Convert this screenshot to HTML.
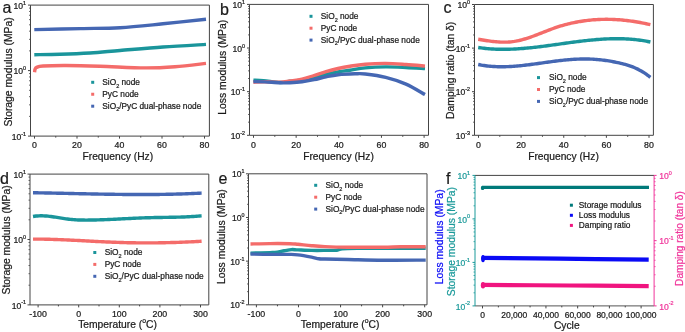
<!DOCTYPE html><html><head><meta charset="utf-8"><style>html,body{margin:0;padding:0;background:#fff;width:685px;height:332px;overflow:hidden;position:relative}</style></head><body><svg width="685" height="332" viewBox="0 0 685 332" style="position:absolute;left:0;top:0;will-change:transform" font-family='"Liberation Sans", sans-serif'>
<style>text{stroke-width:0.22px;paint-order:normal}</style>
<rect width="685" height="332" fill="#fff"/>
<line x1="34.50" y1="136.10" x2="34.50" y2="138.60" stroke="#444444" stroke-width="1.00"/>
<line x1="55.75" y1="136.10" x2="55.75" y2="137.60" stroke="#444444" stroke-width="1.00"/>
<line x1="77.00" y1="136.10" x2="77.00" y2="138.60" stroke="#444444" stroke-width="1.00"/>
<line x1="98.25" y1="136.10" x2="98.25" y2="137.60" stroke="#444444" stroke-width="1.00"/>
<line x1="119.50" y1="136.10" x2="119.50" y2="138.60" stroke="#444444" stroke-width="1.00"/>
<line x1="140.75" y1="136.10" x2="140.75" y2="137.60" stroke="#444444" stroke-width="1.00"/>
<line x1="162.00" y1="136.10" x2="162.00" y2="138.60" stroke="#444444" stroke-width="1.00"/>
<line x1="183.25" y1="136.10" x2="183.25" y2="137.60" stroke="#444444" stroke-width="1.00"/>
<line x1="204.50" y1="136.10" x2="204.50" y2="138.60" stroke="#444444" stroke-width="1.00"/>
<text x="0" y="0" transform="translate(34.50 147.80) scale(1 1.100)" font-size="8.80" text-anchor="middle" fill="#1a1a1a" stroke="#1a1a1a" >0</text>
<text x="0" y="0" transform="translate(77.00 147.80) scale(1 1.100)" font-size="8.80" text-anchor="middle" fill="#1a1a1a" stroke="#1a1a1a" >20</text>
<text x="0" y="0" transform="translate(119.50 147.80) scale(1 1.100)" font-size="8.80" text-anchor="middle" fill="#1a1a1a" stroke="#1a1a1a" >40</text>
<text x="0" y="0" transform="translate(162.00 147.80) scale(1 1.100)" font-size="8.80" text-anchor="middle" fill="#1a1a1a" stroke="#1a1a1a" >60</text>
<text x="0" y="0" transform="translate(204.50 147.80) scale(1 1.100)" font-size="8.80" text-anchor="middle" fill="#1a1a1a" stroke="#1a1a1a" >80</text>
<line x1="28.00" y1="5.10" x2="30.50" y2="5.10" stroke="#444444" stroke-width="1.00"/>
<line x1="29.00" y1="50.88" x2="30.50" y2="50.88" stroke="#444444" stroke-width="0.80"/>
<line x1="29.00" y1="39.35" x2="30.50" y2="39.35" stroke="#444444" stroke-width="0.80"/>
<line x1="29.00" y1="31.17" x2="30.50" y2="31.17" stroke="#444444" stroke-width="0.80"/>
<line x1="29.00" y1="24.82" x2="30.50" y2="24.82" stroke="#444444" stroke-width="0.80"/>
<line x1="29.00" y1="19.63" x2="30.50" y2="19.63" stroke="#444444" stroke-width="0.80"/>
<line x1="29.00" y1="15.25" x2="30.50" y2="15.25" stroke="#444444" stroke-width="0.80"/>
<line x1="29.00" y1="11.45" x2="30.50" y2="11.45" stroke="#444444" stroke-width="0.80"/>
<line x1="29.00" y1="8.10" x2="30.50" y2="8.10" stroke="#444444" stroke-width="0.80"/>
<text x="0" y="0" transform="translate(26.00 8.70) scale(1 1.120)" font-size="8.60" text-anchor="end" fill="#1a1a1a" stroke="#1a1a1a" >10<tspan dy="-3.6" font-size="5.4">1</tspan></text>
<line x1="28.00" y1="70.60" x2="30.50" y2="70.60" stroke="#444444" stroke-width="1.00"/>
<line x1="29.00" y1="116.38" x2="30.50" y2="116.38" stroke="#444444" stroke-width="0.80"/>
<line x1="29.00" y1="104.85" x2="30.50" y2="104.85" stroke="#444444" stroke-width="0.80"/>
<line x1="29.00" y1="96.67" x2="30.50" y2="96.67" stroke="#444444" stroke-width="0.80"/>
<line x1="29.00" y1="90.32" x2="30.50" y2="90.32" stroke="#444444" stroke-width="0.80"/>
<line x1="29.00" y1="85.13" x2="30.50" y2="85.13" stroke="#444444" stroke-width="0.80"/>
<line x1="29.00" y1="80.75" x2="30.50" y2="80.75" stroke="#444444" stroke-width="0.80"/>
<line x1="29.00" y1="76.95" x2="30.50" y2="76.95" stroke="#444444" stroke-width="0.80"/>
<line x1="29.00" y1="73.60" x2="30.50" y2="73.60" stroke="#444444" stroke-width="0.80"/>
<text x="0" y="0" transform="translate(26.00 74.20) scale(1 1.120)" font-size="8.60" text-anchor="end" fill="#1a1a1a" stroke="#1a1a1a" >10<tspan dy="-3.6" font-size="5.4">0</tspan></text>
<line x1="28.00" y1="136.10" x2="30.50" y2="136.10" stroke="#444444" stroke-width="1.00"/>
<text x="0" y="0" transform="translate(26.00 139.70) scale(1 1.120)" font-size="8.60" text-anchor="end" fill="#1a1a1a" stroke="#1a1a1a" >10<tspan dy="-3.6" font-size="5.4">-1</tspan></text>
<path d="M34.30 54.70 C38.58 54.63 50.72 54.58 60.00 54.30 C69.28 54.02 80.00 53.63 90.00 53.00 C100.00 52.37 107.83 51.50 120.00 50.50 C132.17 49.50 148.67 48.02 163.00 47.00 C177.33 45.98 198.83 44.83 206.00 44.40" fill="none" stroke="#1a959b" stroke-width="3.40" stroke-linecap="butt" stroke-linejoin="round"/>
<path d="M34.60 72.30 C34.67 71.83 34.67 70.32 35.00 69.50 C35.33 68.68 35.27 67.98 36.60 67.40 C37.93 66.82 38.10 66.32 43.00 66.00 C47.90 65.68 56.50 65.47 66.00 65.50 C75.50 65.53 86.83 65.80 100.00 66.20 C113.17 66.60 132.50 67.82 145.00 67.90 C157.50 67.98 164.83 67.45 175.00 66.70 C185.17 65.95 200.83 63.95 206.00 63.40" fill="none" stroke="#f46c6a" stroke-width="3.40" stroke-linecap="butt" stroke-linejoin="round"/>
<path d="M34.30 29.60 C42.03 29.43 66.42 28.92 80.70 28.60 C94.98 28.28 106.28 28.50 120.00 27.70 C133.72 26.90 148.67 25.20 163.00 23.80 C177.33 22.40 198.83 20.05 206.00 19.30" fill="none" stroke="#4567b3" stroke-width="3.40" stroke-linecap="butt" stroke-linejoin="round"/>
<line x1="30.50" y1="5.10" x2="209.40" y2="5.10" stroke="#444444" stroke-width="1.00"/>
<line x1="30.50" y1="136.10" x2="209.40" y2="136.10" stroke="#444444" stroke-width="1.00"/>
<line x1="30.50" y1="5.10" x2="30.50" y2="136.10" stroke="#444444" stroke-width="1.00"/>
<line x1="209.40" y1="5.10" x2="209.40" y2="136.10" stroke="#444444" stroke-width="1.00"/>
<rect x="91.20" y="80.80" width="3" height="3" fill="#1a959b"/>
<text x="102.30" y="85.10" font-size="8.30" text-anchor="start" fill="#1a1a1a" stroke="#1a1a1a" >SiO<tspan font-size="5.5" dy="2.4">2</tspan><tspan dy="-2.4"> node</tspan></text>
<rect x="91.20" y="92.75" width="3" height="3" fill="#f46c6a"/>
<text x="102.30" y="97.05" font-size="8.30" text-anchor="start" fill="#1a1a1a" stroke="#1a1a1a" >PyC node</text>
<rect x="91.20" y="104.70" width="3" height="3" fill="#4567b3"/>
<text x="102.30" y="109.00" font-size="8.30" text-anchor="start" fill="#1a1a1a" stroke="#1a1a1a" >SiO<tspan font-size="5.5" dy="2.4">2</tspan><tspan dy="-2.4">/PyC dual-phase node</tspan></text>
<text x="117.80" y="159.60" font-size="10.25" text-anchor="middle" fill="#1a1a1a" stroke="#1a1a1a" >Frequency (Hz)</text>
<text x="12.00" y="72.00" font-size="10.35" text-anchor="middle" fill="#1a1a1a" stroke="#1a1a1a" transform="rotate(-90 12.00 72.00)">Storage modulus (MPa)</text>
<text x="2.50" y="13.00" font-size="16.00" text-anchor="start" fill="#1a1a1a" stroke="#1a1a1a" >a</text>
<line x1="253.50" y1="135.30" x2="253.50" y2="137.80" stroke="#444444" stroke-width="1.00"/>
<line x1="274.82" y1="135.30" x2="274.82" y2="136.80" stroke="#444444" stroke-width="1.00"/>
<line x1="296.15" y1="135.30" x2="296.15" y2="137.80" stroke="#444444" stroke-width="1.00"/>
<line x1="317.48" y1="135.30" x2="317.48" y2="136.80" stroke="#444444" stroke-width="1.00"/>
<line x1="338.80" y1="135.30" x2="338.80" y2="137.80" stroke="#444444" stroke-width="1.00"/>
<line x1="360.12" y1="135.30" x2="360.12" y2="136.80" stroke="#444444" stroke-width="1.00"/>
<line x1="381.45" y1="135.30" x2="381.45" y2="137.80" stroke="#444444" stroke-width="1.00"/>
<line x1="402.78" y1="135.30" x2="402.78" y2="136.80" stroke="#444444" stroke-width="1.00"/>
<line x1="424.10" y1="135.30" x2="424.10" y2="137.80" stroke="#444444" stroke-width="1.00"/>
<text x="0" y="0" transform="translate(253.50 147.50) scale(1 1.100)" font-size="8.80" text-anchor="middle" fill="#1a1a1a" stroke="#1a1a1a" >0</text>
<text x="0" y="0" transform="translate(296.15 147.50) scale(1 1.100)" font-size="8.80" text-anchor="middle" fill="#1a1a1a" stroke="#1a1a1a" >20</text>
<text x="0" y="0" transform="translate(338.80 147.50) scale(1 1.100)" font-size="8.80" text-anchor="middle" fill="#1a1a1a" stroke="#1a1a1a" >40</text>
<text x="0" y="0" transform="translate(381.45 147.50) scale(1 1.100)" font-size="8.80" text-anchor="middle" fill="#1a1a1a" stroke="#1a1a1a" >60</text>
<text x="0" y="0" transform="translate(424.10 147.50) scale(1 1.100)" font-size="8.80" text-anchor="middle" fill="#1a1a1a" stroke="#1a1a1a" >80</text>
<line x1="247.00" y1="4.40" x2="249.50" y2="4.40" stroke="#444444" stroke-width="1.00"/>
<line x1="248.00" y1="34.90" x2="249.50" y2="34.90" stroke="#444444" stroke-width="0.80"/>
<line x1="248.00" y1="27.21" x2="249.50" y2="27.21" stroke="#444444" stroke-width="0.80"/>
<line x1="248.00" y1="21.76" x2="249.50" y2="21.76" stroke="#444444" stroke-width="0.80"/>
<line x1="248.00" y1="17.53" x2="249.50" y2="17.53" stroke="#444444" stroke-width="0.80"/>
<line x1="248.00" y1="14.08" x2="249.50" y2="14.08" stroke="#444444" stroke-width="0.80"/>
<line x1="248.00" y1="11.16" x2="249.50" y2="11.16" stroke="#444444" stroke-width="0.80"/>
<line x1="248.00" y1="8.63" x2="249.50" y2="8.63" stroke="#444444" stroke-width="0.80"/>
<line x1="248.00" y1="6.40" x2="249.50" y2="6.40" stroke="#444444" stroke-width="0.80"/>
<text x="0" y="0" transform="translate(245.00 8.00) scale(1 1.120)" font-size="8.60" text-anchor="end" fill="#1a1a1a" stroke="#1a1a1a" >10<tspan dy="-3.6" font-size="5.4">1</tspan></text>
<line x1="247.00" y1="48.03" x2="249.50" y2="48.03" stroke="#444444" stroke-width="1.00"/>
<line x1="248.00" y1="78.53" x2="249.50" y2="78.53" stroke="#444444" stroke-width="0.80"/>
<line x1="248.00" y1="70.85" x2="249.50" y2="70.85" stroke="#444444" stroke-width="0.80"/>
<line x1="248.00" y1="65.40" x2="249.50" y2="65.40" stroke="#444444" stroke-width="0.80"/>
<line x1="248.00" y1="61.17" x2="249.50" y2="61.17" stroke="#444444" stroke-width="0.80"/>
<line x1="248.00" y1="57.71" x2="249.50" y2="57.71" stroke="#444444" stroke-width="0.80"/>
<line x1="248.00" y1="54.79" x2="249.50" y2="54.79" stroke="#444444" stroke-width="0.80"/>
<line x1="248.00" y1="52.26" x2="249.50" y2="52.26" stroke="#444444" stroke-width="0.80"/>
<line x1="248.00" y1="50.03" x2="249.50" y2="50.03" stroke="#444444" stroke-width="0.80"/>
<text x="0" y="0" transform="translate(245.00 51.63) scale(1 1.120)" font-size="8.60" text-anchor="end" fill="#1a1a1a" stroke="#1a1a1a" >10<tspan dy="-3.6" font-size="5.4">0</tspan></text>
<line x1="247.00" y1="91.67" x2="249.50" y2="91.67" stroke="#444444" stroke-width="1.00"/>
<line x1="248.00" y1="122.17" x2="249.50" y2="122.17" stroke="#444444" stroke-width="0.80"/>
<line x1="248.00" y1="114.48" x2="249.50" y2="114.48" stroke="#444444" stroke-width="0.80"/>
<line x1="248.00" y1="109.03" x2="249.50" y2="109.03" stroke="#444444" stroke-width="0.80"/>
<line x1="248.00" y1="104.80" x2="249.50" y2="104.80" stroke="#444444" stroke-width="0.80"/>
<line x1="248.00" y1="101.35" x2="249.50" y2="101.35" stroke="#444444" stroke-width="0.80"/>
<line x1="248.00" y1="98.43" x2="249.50" y2="98.43" stroke="#444444" stroke-width="0.80"/>
<line x1="248.00" y1="95.90" x2="249.50" y2="95.90" stroke="#444444" stroke-width="0.80"/>
<line x1="248.00" y1="93.66" x2="249.50" y2="93.66" stroke="#444444" stroke-width="0.80"/>
<text x="0" y="0" transform="translate(245.00 95.27) scale(1 1.120)" font-size="8.60" text-anchor="end" fill="#1a1a1a" stroke="#1a1a1a" >10<tspan dy="-3.6" font-size="5.4">-1</tspan></text>
<line x1="247.00" y1="135.30" x2="249.50" y2="135.30" stroke="#444444" stroke-width="1.00"/>
<text x="0" y="0" transform="translate(245.00 138.90) scale(1 1.120)" font-size="8.60" text-anchor="end" fill="#1a1a1a" stroke="#1a1a1a" >10<tspan dy="-3.6" font-size="5.4">-2</tspan></text>
<path d="M253.40 80.20 C255.08 80.27 259.07 80.22 263.50 80.60 C267.93 80.98 275.58 82.38 280.00 82.50 C284.42 82.62 286.33 81.72 290.00 81.30 C293.67 80.88 298.00 80.67 302.00 80.00 C306.00 79.33 310.00 78.25 314.00 77.30 C318.00 76.35 322.00 75.20 326.00 74.30 C330.00 73.40 334.00 72.58 338.00 71.90 C342.00 71.22 345.45 70.87 350.00 70.20 C354.55 69.53 359.35 68.45 365.30 67.90 C371.25 67.35 378.92 66.97 385.70 66.90 C392.48 66.83 399.45 67.22 406.00 67.50 C412.55 67.78 421.83 68.42 425.00 68.60" fill="none" stroke="#1a959b" stroke-width="3.40" stroke-linecap="butt" stroke-linejoin="round"/>
<path d="M253.40 82.20 C255.33 82.13 260.57 81.78 265.00 81.80 C269.43 81.82 275.83 82.43 280.00 82.30 C284.17 82.17 286.33 81.53 290.00 81.00 C293.67 80.47 298.00 80.02 302.00 79.10 C306.00 78.18 310.00 76.75 314.00 75.50 C318.00 74.25 322.00 72.77 326.00 71.60 C330.00 70.43 334.00 69.40 338.00 68.50 C342.00 67.60 345.45 66.92 350.00 66.20 C354.55 65.48 359.35 64.67 365.30 64.20 C371.25 63.73 378.92 63.35 385.70 63.40 C392.48 63.45 399.45 64.05 406.00 64.50 C412.55 64.95 421.83 65.83 425.00 66.10" fill="none" stroke="#f46c6a" stroke-width="3.40" stroke-linecap="butt" stroke-linejoin="round"/>
<path d="M253.40 81.60 C255.33 81.65 260.57 81.70 265.00 81.90 C269.43 82.10 275.83 82.67 280.00 82.80 C284.17 82.93 286.33 82.87 290.00 82.70 C293.67 82.53 298.00 82.30 302.00 81.80 C306.00 81.30 310.00 80.53 314.00 79.70 C318.00 78.87 322.00 77.63 326.00 76.80 C330.00 75.97 333.17 75.20 338.00 74.70 C342.83 74.20 350.45 73.92 355.00 73.80 C359.55 73.68 360.18 73.40 365.30 74.00 C370.42 74.60 378.92 75.72 385.70 77.40 C392.48 79.08 399.45 81.23 406.00 84.10 C412.55 86.97 421.83 92.85 425.00 94.60" fill="none" stroke="#4567b3" stroke-width="3.40" stroke-linecap="butt" stroke-linejoin="round"/>
<line x1="249.50" y1="4.40" x2="428.50" y2="4.40" stroke="#444444" stroke-width="1.00"/>
<line x1="249.50" y1="135.30" x2="428.50" y2="135.30" stroke="#444444" stroke-width="1.00"/>
<line x1="249.50" y1="4.40" x2="249.50" y2="135.30" stroke="#444444" stroke-width="1.00"/>
<line x1="428.50" y1="4.40" x2="428.50" y2="135.30" stroke="#444444" stroke-width="1.00"/>
<rect x="309.50" y="14.80" width="3" height="3" fill="#1a959b"/>
<text x="320.80" y="19.10" font-size="8.30" text-anchor="start" fill="#1a1a1a" stroke="#1a1a1a" >SiO<tspan font-size="5.5" dy="2.4">2</tspan><tspan dy="-2.4"> node</tspan></text>
<rect x="309.50" y="26.70" width="3" height="3" fill="#f46c6a"/>
<text x="320.80" y="31.00" font-size="8.30" text-anchor="start" fill="#1a1a1a" stroke="#1a1a1a" >PyC node</text>
<rect x="309.50" y="38.60" width="3" height="3" fill="#4567b3"/>
<text x="320.80" y="42.90" font-size="8.30" text-anchor="start" fill="#1a1a1a" stroke="#1a1a1a" >SiO<tspan font-size="5.5" dy="2.4">2</tspan><tspan dy="-2.4">/PyC dual-phase node</tspan></text>
<text x="338.50" y="159.60" font-size="10.25" text-anchor="middle" fill="#1a1a1a" stroke="#1a1a1a" >Frequency (Hz)</text>
<text x="226.30" y="67.20" font-size="10.35" text-anchor="middle" fill="#1a1a1a" stroke="#1a1a1a" transform="rotate(-90 226.30 67.20)">Loss modulus (MPa)</text>
<text x="220.00" y="14.50" font-size="16.00" text-anchor="start" fill="#1a1a1a" stroke="#1a1a1a" >b</text>
<line x1="478.50" y1="135.30" x2="478.50" y2="137.80" stroke="#444444" stroke-width="1.00"/>
<line x1="499.81" y1="135.30" x2="499.81" y2="136.80" stroke="#444444" stroke-width="1.00"/>
<line x1="521.12" y1="135.30" x2="521.12" y2="137.80" stroke="#444444" stroke-width="1.00"/>
<line x1="542.44" y1="135.30" x2="542.44" y2="136.80" stroke="#444444" stroke-width="1.00"/>
<line x1="563.75" y1="135.30" x2="563.75" y2="137.80" stroke="#444444" stroke-width="1.00"/>
<line x1="585.06" y1="135.30" x2="585.06" y2="136.80" stroke="#444444" stroke-width="1.00"/>
<line x1="606.38" y1="135.30" x2="606.38" y2="137.80" stroke="#444444" stroke-width="1.00"/>
<line x1="627.69" y1="135.30" x2="627.69" y2="136.80" stroke="#444444" stroke-width="1.00"/>
<line x1="649.00" y1="135.30" x2="649.00" y2="137.80" stroke="#444444" stroke-width="1.00"/>
<text x="0" y="0" transform="translate(478.50 147.80) scale(1 1.100)" font-size="8.80" text-anchor="middle" fill="#1a1a1a" stroke="#1a1a1a" >0</text>
<text x="0" y="0" transform="translate(521.12 147.80) scale(1 1.100)" font-size="8.80" text-anchor="middle" fill="#1a1a1a" stroke="#1a1a1a" >20</text>
<text x="0" y="0" transform="translate(563.75 147.80) scale(1 1.100)" font-size="8.80" text-anchor="middle" fill="#1a1a1a" stroke="#1a1a1a" >40</text>
<text x="0" y="0" transform="translate(606.38 147.80) scale(1 1.100)" font-size="8.80" text-anchor="middle" fill="#1a1a1a" stroke="#1a1a1a" >60</text>
<text x="0" y="0" transform="translate(649.00 147.80) scale(1 1.100)" font-size="8.80" text-anchor="middle" fill="#1a1a1a" stroke="#1a1a1a" >80</text>
<line x1="472.00" y1="4.50" x2="474.50" y2="4.50" stroke="#444444" stroke-width="1.00"/>
<line x1="473.00" y1="34.98" x2="474.50" y2="34.98" stroke="#444444" stroke-width="0.80"/>
<line x1="473.00" y1="27.30" x2="474.50" y2="27.30" stroke="#444444" stroke-width="0.80"/>
<line x1="473.00" y1="21.85" x2="474.50" y2="21.85" stroke="#444444" stroke-width="0.80"/>
<line x1="473.00" y1="17.62" x2="474.50" y2="17.62" stroke="#444444" stroke-width="0.80"/>
<line x1="473.00" y1="14.17" x2="474.50" y2="14.17" stroke="#444444" stroke-width="0.80"/>
<line x1="473.00" y1="11.25" x2="474.50" y2="11.25" stroke="#444444" stroke-width="0.80"/>
<line x1="473.00" y1="8.73" x2="474.50" y2="8.73" stroke="#444444" stroke-width="0.80"/>
<line x1="473.00" y1="6.50" x2="474.50" y2="6.50" stroke="#444444" stroke-width="0.80"/>
<text x="0" y="0" transform="translate(470.00 8.10) scale(1 1.120)" font-size="8.60" text-anchor="end" fill="#1a1a1a" stroke="#1a1a1a" >10<tspan dy="-3.6" font-size="5.4">0</tspan></text>
<line x1="472.00" y1="48.10" x2="474.50" y2="48.10" stroke="#444444" stroke-width="1.00"/>
<line x1="473.00" y1="78.58" x2="474.50" y2="78.58" stroke="#444444" stroke-width="0.80"/>
<line x1="473.00" y1="70.90" x2="474.50" y2="70.90" stroke="#444444" stroke-width="0.80"/>
<line x1="473.00" y1="65.45" x2="474.50" y2="65.45" stroke="#444444" stroke-width="0.80"/>
<line x1="473.00" y1="61.22" x2="474.50" y2="61.22" stroke="#444444" stroke-width="0.80"/>
<line x1="473.00" y1="57.77" x2="474.50" y2="57.77" stroke="#444444" stroke-width="0.80"/>
<line x1="473.00" y1="54.85" x2="474.50" y2="54.85" stroke="#444444" stroke-width="0.80"/>
<line x1="473.00" y1="52.33" x2="474.50" y2="52.33" stroke="#444444" stroke-width="0.80"/>
<line x1="473.00" y1="50.10" x2="474.50" y2="50.10" stroke="#444444" stroke-width="0.80"/>
<text x="0" y="0" transform="translate(470.00 51.70) scale(1 1.120)" font-size="8.60" text-anchor="end" fill="#1a1a1a" stroke="#1a1a1a" >10<tspan dy="-3.6" font-size="5.4">-1</tspan></text>
<line x1="472.00" y1="91.70" x2="474.50" y2="91.70" stroke="#444444" stroke-width="1.00"/>
<line x1="473.00" y1="122.18" x2="474.50" y2="122.18" stroke="#444444" stroke-width="0.80"/>
<line x1="473.00" y1="114.50" x2="474.50" y2="114.50" stroke="#444444" stroke-width="0.80"/>
<line x1="473.00" y1="109.05" x2="474.50" y2="109.05" stroke="#444444" stroke-width="0.80"/>
<line x1="473.00" y1="104.82" x2="474.50" y2="104.82" stroke="#444444" stroke-width="0.80"/>
<line x1="473.00" y1="101.37" x2="474.50" y2="101.37" stroke="#444444" stroke-width="0.80"/>
<line x1="473.00" y1="98.45" x2="474.50" y2="98.45" stroke="#444444" stroke-width="0.80"/>
<line x1="473.00" y1="95.93" x2="474.50" y2="95.93" stroke="#444444" stroke-width="0.80"/>
<line x1="473.00" y1="93.70" x2="474.50" y2="93.70" stroke="#444444" stroke-width="0.80"/>
<text x="0" y="0" transform="translate(470.00 95.30) scale(1 1.120)" font-size="8.60" text-anchor="end" fill="#1a1a1a" stroke="#1a1a1a" >10<tspan dy="-3.6" font-size="5.4">-2</tspan></text>
<line x1="472.00" y1="135.30" x2="474.50" y2="135.30" stroke="#444444" stroke-width="1.00"/>
<text x="0" y="0" transform="translate(470.00 138.90) scale(1 1.120)" font-size="8.60" text-anchor="end" fill="#1a1a1a" stroke="#1a1a1a" >10<tspan dy="-3.6" font-size="5.4">-3</tspan></text>
<path d="M478.20 47.50 L479.70 47.72 L481.20 47.93 L482.70 48.12 L484.20 48.30 L485.70 48.46 L487.20 48.60 L488.70 48.73 L490.20 48.85 L491.70 48.95 L493.20 49.04 L494.70 49.12 L496.20 49.18 L497.70 49.23 L499.20 49.27 L500.70 49.29 L502.20 49.31 L503.70 49.31 L505.20 49.30 L506.70 49.28 L508.20 49.25 L509.70 49.21 L511.20 49.16 L512.70 49.10 L514.20 49.03 L515.70 48.95 L517.20 48.87 L518.70 48.77 L520.20 48.67 L521.70 48.56 L523.20 48.44 L524.70 48.31 L526.20 48.18 L527.70 48.04 L529.20 47.89 L530.70 47.74 L532.20 47.58 L533.70 47.42 L535.20 47.25 L536.70 47.08 L538.20 46.90 L539.70 46.72 L541.20 46.53 L542.70 46.34 L544.20 46.15 L545.70 45.95 L547.20 45.75 L548.70 45.55 L550.20 45.35 L551.70 45.14 L553.20 44.93 L554.70 44.73 L556.20 44.52 L557.70 44.31 L559.20 44.10 L560.70 43.89 L562.20 43.67 L563.70 43.47 L565.20 43.26 L566.70 43.05 L568.20 42.84 L569.70 42.64 L571.20 42.43 L572.70 42.23 L574.20 42.04 L575.70 41.84 L577.20 41.65 L578.70 41.46 L580.20 41.27 L581.70 41.09 L583.20 40.92 L584.70 40.74 L586.20 40.58 L587.70 40.41 L589.20 40.26 L590.70 40.11 L592.20 39.96 L593.70 39.82 L595.20 39.69 L596.70 39.56 L598.20 39.45 L599.70 39.33 L601.20 39.23 L602.70 39.14 L604.20 39.05 L605.70 38.97 L607.20 38.90 L608.70 38.84 L610.20 38.79 L611.70 38.75 L613.20 38.72 L614.70 38.70 L616.20 38.69 L617.70 38.69 L619.20 38.71 L620.70 38.73 L622.20 38.77 L623.70 38.81 L625.20 38.87 L626.70 38.95 L628.20 39.03 L629.70 39.13 L631.20 39.25 L632.70 39.37 L634.20 39.51 L635.70 39.67 L637.20 39.84 L638.70 40.02 L640.20 40.22 L641.70 40.44 L643.20 40.67 L644.70 40.92 L646.20 41.18 L647.70 41.46 L649.20 41.76 L650.40 42.01" fill="none" stroke="#1a959b" stroke-width="3.40" stroke-linecap="butt" stroke-linejoin="round"/>
<path d="M478.20 39.26 L479.70 39.51 L481.20 39.76 L482.70 40.00 L484.20 40.24 L485.70 40.47 L487.20 40.70 L488.70 40.92 L490.20 41.12 L491.70 41.32 L493.20 41.49 L494.70 41.66 L496.20 41.80 L497.70 41.92 L499.20 42.02 L500.70 42.10 L502.20 42.15 L503.70 42.17 L505.20 42.17 L506.70 42.13 L508.20 42.07 L509.70 41.96 L511.20 41.82 L512.70 41.64 L514.20 41.43 L515.70 41.18 L517.20 40.89 L518.70 40.57 L520.20 40.22 L521.70 39.84 L523.20 39.43 L524.70 39.00 L526.20 38.54 L527.70 38.07 L529.20 37.57 L530.70 37.05 L532.20 36.52 L533.70 35.98 L535.20 35.42 L536.70 34.85 L538.20 34.27 L539.70 33.69 L541.20 33.10 L542.70 32.51 L544.20 31.92 L545.70 31.33 L547.20 30.74 L548.70 30.17 L550.20 29.59 L551.70 29.03 L553.20 28.49 L554.70 27.95 L556.20 27.43 L557.70 26.94 L559.20 26.45 L560.70 25.99 L562.20 25.54 L563.70 25.12 L565.20 24.70 L566.70 24.31 L568.20 23.93 L569.70 23.56 L571.20 23.21 L572.70 22.88 L574.20 22.56 L575.70 22.26 L577.20 21.97 L578.70 21.70 L580.20 21.45 L581.70 21.21 L583.20 20.98 L584.70 20.77 L586.20 20.57 L587.70 20.39 L589.20 20.22 L590.70 20.07 L592.20 19.93 L593.70 19.81 L595.20 19.70 L596.70 19.60 L598.20 19.52 L599.70 19.45 L601.20 19.40 L602.70 19.36 L604.20 19.33 L605.70 19.32 L607.20 19.32 L608.70 19.34 L610.20 19.36 L611.70 19.40 L613.20 19.46 L614.70 19.52 L616.20 19.60 L617.70 19.69 L619.20 19.80 L620.70 19.92 L622.20 20.05 L623.70 20.19 L625.20 20.34 L626.70 20.51 L628.20 20.69 L629.70 20.88 L631.20 21.08 L632.70 21.29 L634.20 21.52 L635.70 21.76 L637.20 22.00 L638.70 22.26 L640.20 22.54 L641.70 22.82 L643.20 23.11 L644.70 23.42 L646.20 23.73 L647.70 24.06 L649.20 24.40 L650.40 24.67" fill="none" stroke="#f46c6a" stroke-width="3.40" stroke-linecap="butt" stroke-linejoin="round"/>
<path d="M478.20 64.49 L479.70 64.79 L481.20 65.07 L482.70 65.32 L484.20 65.55 L485.70 65.76 L487.20 65.94 L488.70 66.11 L490.20 66.25 L491.70 66.38 L493.20 66.48 L494.70 66.57 L496.20 66.64 L497.70 66.69 L499.20 66.72 L500.70 66.74 L502.20 66.74 L503.70 66.72 L505.20 66.70 L506.70 66.65 L508.20 66.60 L509.70 66.53 L511.20 66.44 L512.70 66.35 L514.20 66.24 L515.70 66.13 L517.20 66.00 L518.70 65.86 L520.20 65.72 L521.70 65.57 L523.20 65.41 L524.70 65.24 L526.20 65.06 L527.70 64.88 L529.20 64.69 L530.70 64.50 L532.20 64.31 L533.70 64.11 L535.20 63.90 L536.70 63.70 L538.20 63.49 L539.70 63.28 L541.20 63.07 L542.70 62.86 L544.20 62.65 L545.70 62.44 L547.20 62.23 L548.70 62.02 L550.20 61.82 L551.70 61.61 L553.20 61.42 L554.70 61.22 L556.20 61.04 L557.70 60.85 L559.20 60.67 L560.70 60.50 L562.20 60.34 L563.70 60.18 L565.20 60.03 L566.70 59.89 L568.20 59.76 L569.70 59.63 L571.20 59.52 L572.70 59.41 L574.20 59.32 L575.70 59.24 L577.20 59.16 L578.70 59.10 L580.20 59.05 L581.70 59.02 L583.20 58.99 L584.70 58.98 L586.20 58.99 L587.70 59.01 L589.20 59.04 L590.70 59.09 L592.20 59.15 L593.70 59.23 L595.20 59.33 L596.70 59.44 L598.20 59.57 L599.70 59.72 L601.20 59.89 L602.70 60.07 L604.20 60.26 L605.70 60.47 L607.20 60.69 L608.70 60.93 L610.20 61.18 L611.70 61.45 L613.20 61.72 L614.70 62.01 L616.20 62.31 L617.70 62.62 L619.20 62.95 L620.70 63.29 L622.20 63.65 L623.70 64.04 L625.20 64.44 L626.70 64.88 L628.20 65.34 L629.70 65.84 L631.20 66.37 L632.70 66.94 L634.20 67.55 L635.70 68.20 L637.20 68.90 L638.70 69.64 L640.20 70.44 L641.70 71.29 L643.20 72.19 L644.70 73.16 L646.20 74.18 L647.70 75.27 L649.20 76.42 L650.40 77.39" fill="none" stroke="#4567b3" stroke-width="3.40" stroke-linecap="butt" stroke-linejoin="round"/>
<line x1="474.50" y1="4.50" x2="653.40" y2="4.50" stroke="#444444" stroke-width="1.00"/>
<line x1="474.50" y1="135.30" x2="653.40" y2="135.30" stroke="#444444" stroke-width="1.00"/>
<line x1="474.50" y1="4.50" x2="474.50" y2="135.30" stroke="#444444" stroke-width="1.00"/>
<line x1="653.40" y1="4.50" x2="653.40" y2="135.30" stroke="#444444" stroke-width="1.00"/>
<rect x="537.00" y="76.10" width="3" height="3" fill="#1a959b"/>
<text x="549.00" y="80.40" font-size="8.30" text-anchor="start" fill="#1a1a1a" stroke="#1a1a1a" >SiO<tspan font-size="5.5" dy="2.4">2</tspan><tspan dy="-2.4"> node</tspan></text>
<rect x="537.00" y="88.00" width="3" height="3" fill="#f46c6a"/>
<text x="549.00" y="92.30" font-size="8.30" text-anchor="start" fill="#1a1a1a" stroke="#1a1a1a" >PyC node</text>
<rect x="537.00" y="99.90" width="3" height="3" fill="#4567b3"/>
<text x="549.00" y="104.20" font-size="8.30" text-anchor="start" fill="#1a1a1a" stroke="#1a1a1a" >SiO<tspan font-size="5.5" dy="2.4">2</tspan><tspan dy="-2.4">/PyC dual-phase node</tspan></text>
<text x="563.50" y="159.60" font-size="10.25" text-anchor="middle" fill="#1a1a1a" stroke="#1a1a1a" >Frequency (Hz)</text>
<text x="453.60" y="70.35" font-size="10.35" text-anchor="middle" fill="#1a1a1a" stroke="#1a1a1a" transform="rotate(-90 453.60 70.35)">Damping ratio (tan &#948;)</text>
<text x="443.50" y="13.00" font-size="16.00" text-anchor="start" fill="#1a1a1a" stroke="#1a1a1a" >c</text>
<line x1="38.10" y1="304.90" x2="38.10" y2="307.40" stroke="#444444" stroke-width="1.00"/>
<line x1="58.40" y1="304.90" x2="58.40" y2="306.40" stroke="#444444" stroke-width="1.00"/>
<line x1="78.70" y1="304.90" x2="78.70" y2="307.40" stroke="#444444" stroke-width="1.00"/>
<line x1="99.00" y1="304.90" x2="99.00" y2="306.40" stroke="#444444" stroke-width="1.00"/>
<line x1="119.30" y1="304.90" x2="119.30" y2="307.40" stroke="#444444" stroke-width="1.00"/>
<line x1="139.60" y1="304.90" x2="139.60" y2="306.40" stroke="#444444" stroke-width="1.00"/>
<line x1="159.90" y1="304.90" x2="159.90" y2="307.40" stroke="#444444" stroke-width="1.00"/>
<line x1="180.20" y1="304.90" x2="180.20" y2="306.40" stroke="#444444" stroke-width="1.00"/>
<line x1="200.50" y1="304.90" x2="200.50" y2="307.40" stroke="#444444" stroke-width="1.00"/>
<text x="0" y="0" transform="translate(38.10 317.00) scale(1 1.100)" font-size="8.80" text-anchor="middle" fill="#1a1a1a" stroke="#1a1a1a" >-100</text>
<text x="0" y="0" transform="translate(78.70 317.00) scale(1 1.100)" font-size="8.80" text-anchor="middle" fill="#1a1a1a" stroke="#1a1a1a" >0</text>
<text x="0" y="0" transform="translate(119.30 317.00) scale(1 1.100)" font-size="8.80" text-anchor="middle" fill="#1a1a1a" stroke="#1a1a1a" >100</text>
<text x="0" y="0" transform="translate(159.90 317.00) scale(1 1.100)" font-size="8.80" text-anchor="middle" fill="#1a1a1a" stroke="#1a1a1a" >200</text>
<text x="0" y="0" transform="translate(200.50 317.00) scale(1 1.100)" font-size="8.80" text-anchor="middle" fill="#1a1a1a" stroke="#1a1a1a" >300</text>
<line x1="27.50" y1="174.10" x2="30.00" y2="174.10" stroke="#444444" stroke-width="1.00"/>
<line x1="28.50" y1="219.81" x2="30.00" y2="219.81" stroke="#444444" stroke-width="0.80"/>
<line x1="28.50" y1="208.30" x2="30.00" y2="208.30" stroke="#444444" stroke-width="0.80"/>
<line x1="28.50" y1="200.13" x2="30.00" y2="200.13" stroke="#444444" stroke-width="0.80"/>
<line x1="28.50" y1="193.79" x2="30.00" y2="193.79" stroke="#444444" stroke-width="0.80"/>
<line x1="28.50" y1="188.61" x2="30.00" y2="188.61" stroke="#444444" stroke-width="0.80"/>
<line x1="28.50" y1="184.23" x2="30.00" y2="184.23" stroke="#444444" stroke-width="0.80"/>
<line x1="28.50" y1="180.44" x2="30.00" y2="180.44" stroke="#444444" stroke-width="0.80"/>
<line x1="28.50" y1="177.09" x2="30.00" y2="177.09" stroke="#444444" stroke-width="0.80"/>
<text x="0" y="0" transform="translate(26.00 177.70) scale(1 1.120)" font-size="8.60" text-anchor="end" fill="#1a1a1a" stroke="#1a1a1a" >10<tspan dy="-3.6" font-size="5.4">1</tspan></text>
<line x1="27.50" y1="239.50" x2="30.00" y2="239.50" stroke="#444444" stroke-width="1.00"/>
<line x1="28.50" y1="285.21" x2="30.00" y2="285.21" stroke="#444444" stroke-width="0.80"/>
<line x1="28.50" y1="273.70" x2="30.00" y2="273.70" stroke="#444444" stroke-width="0.80"/>
<line x1="28.50" y1="265.53" x2="30.00" y2="265.53" stroke="#444444" stroke-width="0.80"/>
<line x1="28.50" y1="259.19" x2="30.00" y2="259.19" stroke="#444444" stroke-width="0.80"/>
<line x1="28.50" y1="254.01" x2="30.00" y2="254.01" stroke="#444444" stroke-width="0.80"/>
<line x1="28.50" y1="249.63" x2="30.00" y2="249.63" stroke="#444444" stroke-width="0.80"/>
<line x1="28.50" y1="245.84" x2="30.00" y2="245.84" stroke="#444444" stroke-width="0.80"/>
<line x1="28.50" y1="242.49" x2="30.00" y2="242.49" stroke="#444444" stroke-width="0.80"/>
<text x="0" y="0" transform="translate(26.00 243.10) scale(1 1.120)" font-size="8.60" text-anchor="end" fill="#1a1a1a" stroke="#1a1a1a" >10<tspan dy="-3.6" font-size="5.4">0</tspan></text>
<line x1="27.50" y1="304.90" x2="30.00" y2="304.90" stroke="#444444" stroke-width="1.00"/>
<text x="0" y="0" transform="translate(26.00 308.50) scale(1 1.120)" font-size="8.60" text-anchor="end" fill="#1a1a1a" stroke="#1a1a1a" >10<tspan dy="-3.6" font-size="5.4">-1</tspan></text>
<path d="M33.00 216.49 L34.50 216.25 L36.00 216.06 L37.50 215.93 L39.00 215.84 L40.50 215.80 L42.00 215.81 L43.50 215.85 L45.00 215.93 L46.50 216.04 L48.00 216.18 L49.50 216.34 L51.00 216.53 L52.50 216.73 L54.00 216.95 L55.50 217.19 L57.00 217.43 L58.50 217.67 L60.00 217.92 L61.50 218.17 L63.00 218.41 L64.50 218.64 L66.00 218.86 L67.50 219.06 L69.00 219.25 L70.50 219.41 L72.00 219.56 L73.50 219.68 L75.00 219.78 L76.50 219.87 L78.00 219.94 L79.50 219.99 L81.00 220.03 L82.50 220.06 L84.00 220.07 L85.50 220.08 L87.00 220.08 L88.50 220.07 L90.00 220.05 L91.50 220.03 L93.00 220.00 L94.50 219.97 L96.00 219.94 L97.50 219.90 L99.00 219.85 L100.50 219.81 L102.00 219.76 L103.50 219.70 L105.00 219.65 L106.50 219.59 L108.00 219.53 L109.50 219.46 L111.00 219.40 L112.50 219.33 L114.00 219.26 L115.50 219.19 L117.00 219.12 L118.50 219.04 L120.00 218.97 L121.50 218.90 L123.00 218.82 L124.50 218.75 L126.00 218.67 L127.50 218.60 L129.00 218.52 L130.50 218.45 L132.00 218.38 L133.50 218.31 L135.00 218.24 L136.50 218.17 L138.00 218.11 L139.50 218.04 L141.00 217.98 L142.50 217.92 L144.00 217.87 L145.50 217.81 L147.00 217.77 L148.50 217.72 L150.00 217.68 L151.50 217.64 L153.00 217.60 L154.50 217.57 L156.00 217.54 L157.50 217.51 L159.00 217.49 L160.50 217.46 L162.00 217.44 L163.50 217.42 L165.00 217.39 L166.50 217.37 L168.00 217.35 L169.50 217.32 L171.00 217.30 L172.50 217.27 L174.00 217.24 L175.50 217.21 L177.00 217.17 L178.50 217.13 L180.00 217.09 L181.50 217.04 L183.00 216.99 L184.50 216.93 L186.00 216.87 L187.50 216.80 L189.00 216.72 L190.50 216.64 L192.00 216.55 L193.50 216.46 L195.00 216.35 L196.50 216.24 L198.00 216.12 L199.50 215.98 L201.00 215.84 L201.60 215.78" fill="none" stroke="#1a959b" stroke-width="3.40" stroke-linecap="butt" stroke-linejoin="round"/>
<path d="M33.00 239.08 L34.50 239.08 L36.00 239.09 L37.50 239.09 L39.00 239.11 L40.50 239.12 L42.00 239.14 L43.50 239.17 L45.00 239.20 L46.50 239.23 L48.00 239.26 L49.50 239.30 L51.00 239.34 L52.50 239.39 L54.00 239.43 L55.50 239.48 L57.00 239.54 L58.50 239.59 L60.00 239.65 L61.50 239.71 L63.00 239.77 L64.50 239.84 L66.00 239.90 L67.50 239.97 L69.00 240.04 L70.50 240.11 L72.00 240.18 L73.50 240.26 L75.00 240.33 L76.50 240.41 L78.00 240.49 L79.50 240.56 L81.00 240.64 L82.50 240.72 L84.00 240.80 L85.50 240.88 L87.00 240.96 L88.50 241.04 L90.00 241.12 L91.50 241.20 L93.00 241.27 L94.50 241.35 L96.00 241.43 L97.50 241.51 L99.00 241.58 L100.50 241.66 L102.00 241.73 L103.50 241.80 L105.00 241.87 L106.50 241.94 L108.00 242.01 L109.50 242.07 L111.00 242.14 L112.50 242.20 L114.00 242.26 L115.50 242.32 L117.00 242.37 L118.50 242.42 L120.00 242.47 L121.50 242.52 L123.00 242.56 L124.50 242.61 L126.00 242.64 L127.50 242.68 L129.00 242.71 L130.50 242.74 L132.00 242.77 L133.50 242.79 L135.00 242.82 L136.50 242.84 L138.00 242.85 L139.50 242.87 L141.00 242.88 L142.50 242.89 L144.00 242.89 L145.50 242.90 L147.00 242.90 L148.50 242.89 L150.00 242.89 L151.50 242.88 L153.00 242.87 L154.50 242.86 L156.00 242.85 L157.50 242.83 L159.00 242.81 L160.50 242.79 L162.00 242.76 L163.50 242.74 L165.00 242.71 L166.50 242.67 L168.00 242.64 L169.50 242.60 L171.00 242.56 L172.50 242.52 L174.00 242.48 L175.50 242.43 L177.00 242.38 L178.50 242.33 L180.00 242.28 L181.50 242.22 L183.00 242.16 L184.50 242.10 L186.00 242.04 L187.50 241.98 L189.00 241.91 L190.50 241.84 L192.00 241.77 L193.50 241.69 L195.00 241.62 L196.50 241.54 L198.00 241.46 L199.50 241.38 L201.00 241.29 L201.60 241.26" fill="none" stroke="#f46c6a" stroke-width="3.40" stroke-linecap="butt" stroke-linejoin="round"/>
<path d="M33.00 192.74 L34.50 192.76 L36.00 192.79 L37.50 192.81 L39.00 192.84 L40.50 192.86 L42.00 192.89 L43.50 192.92 L45.00 192.94 L46.50 192.97 L48.00 193.00 L49.50 193.03 L51.00 193.06 L52.50 193.09 L54.00 193.12 L55.50 193.15 L57.00 193.19 L58.50 193.22 L60.00 193.25 L61.50 193.28 L63.00 193.31 L64.50 193.35 L66.00 193.38 L67.50 193.41 L69.00 193.45 L70.50 193.48 L72.00 193.51 L73.50 193.54 L75.00 193.58 L76.50 193.61 L78.00 193.64 L79.50 193.68 L81.00 193.71 L82.50 193.74 L84.00 193.77 L85.50 193.81 L87.00 193.84 L88.50 193.87 L90.00 193.90 L91.50 193.93 L93.00 193.96 L94.50 193.99 L96.00 194.02 L97.50 194.05 L99.00 194.08 L100.50 194.10 L102.00 194.13 L103.50 194.16 L105.00 194.18 L106.50 194.21 L108.00 194.23 L109.50 194.26 L111.00 194.28 L112.50 194.30 L114.00 194.32 L115.50 194.34 L117.00 194.36 L118.50 194.38 L120.00 194.40 L121.50 194.42 L123.00 194.43 L124.50 194.45 L126.00 194.46 L127.50 194.47 L129.00 194.48 L130.50 194.49 L132.00 194.50 L133.50 194.51 L135.00 194.52 L136.50 194.52 L138.00 194.53 L139.50 194.53 L141.00 194.53 L142.50 194.53 L144.00 194.53 L145.50 194.53 L147.00 194.52 L148.50 194.51 L150.00 194.51 L151.50 194.50 L153.00 194.49 L154.50 194.47 L156.00 194.46 L157.50 194.44 L159.00 194.43 L160.50 194.41 L162.00 194.39 L163.50 194.36 L165.00 194.34 L166.50 194.31 L168.00 194.28 L169.50 194.25 L171.00 194.22 L172.50 194.18 L174.00 194.15 L175.50 194.11 L177.00 194.07 L178.50 194.02 L180.00 193.98 L181.50 193.93 L183.00 193.88 L184.50 193.83 L186.00 193.78 L187.50 193.72 L189.00 193.66 L190.50 193.60 L192.00 193.54 L193.50 193.47 L195.00 193.40 L196.50 193.33 L198.00 193.26 L199.50 193.18 L201.00 193.10 L201.60 193.07" fill="none" stroke="#4567b3" stroke-width="3.40" stroke-linecap="butt" stroke-linejoin="round"/>
<line x1="30.00" y1="174.10" x2="208.80" y2="174.10" stroke="#444444" stroke-width="1.00"/>
<line x1="30.00" y1="304.90" x2="208.80" y2="304.90" stroke="#444444" stroke-width="1.00"/>
<line x1="30.00" y1="174.10" x2="30.00" y2="304.90" stroke="#444444" stroke-width="1.00"/>
<line x1="208.80" y1="174.10" x2="208.80" y2="304.90" stroke="#444444" stroke-width="1.00"/>
<rect x="93.30" y="251.00" width="3" height="3" fill="#1a959b"/>
<text x="104.70" y="255.30" font-size="8.30" text-anchor="start" fill="#1a1a1a" stroke="#1a1a1a" >SiO<tspan font-size="5.5" dy="2.4">2</tspan><tspan dy="-2.4"> node</tspan></text>
<rect x="93.30" y="262.90" width="3" height="3" fill="#f46c6a"/>
<text x="104.70" y="267.20" font-size="8.30" text-anchor="start" fill="#1a1a1a" stroke="#1a1a1a" >PyC node</text>
<rect x="93.30" y="274.80" width="3" height="3" fill="#4567b3"/>
<text x="104.70" y="279.10" font-size="8.30" text-anchor="start" fill="#1a1a1a" stroke="#1a1a1a" >SiO<tspan font-size="5.5" dy="2.4">2</tspan><tspan dy="-2.4">/PyC dual-phase node</tspan></text>
<text x="117.50" y="328.20" font-size="10.30" text-anchor="middle" fill="#1a1a1a" stroke="#1a1a1a" >Temperature (<tspan dy="-5" font-size="6.8">o</tspan><tspan dy="5">C)</tspan></text>
<text x="9.80" y="239.90" font-size="10.35" text-anchor="middle" fill="#1a1a1a" stroke="#1a1a1a" transform="rotate(-90 9.80 239.90)">Storage modulus (MPa)</text>
<text x="0.00" y="184.00" font-size="16.00" text-anchor="start" fill="#1a1a1a" stroke="#1a1a1a" >d</text>
<line x1="256.40" y1="304.80" x2="256.40" y2="307.30" stroke="#444444" stroke-width="1.00"/>
<line x1="277.44" y1="304.80" x2="277.44" y2="306.30" stroke="#444444" stroke-width="1.00"/>
<line x1="298.47" y1="304.80" x2="298.47" y2="307.30" stroke="#444444" stroke-width="1.00"/>
<line x1="319.51" y1="304.80" x2="319.51" y2="306.30" stroke="#444444" stroke-width="1.00"/>
<line x1="340.55" y1="304.80" x2="340.55" y2="307.30" stroke="#444444" stroke-width="1.00"/>
<line x1="361.59" y1="304.80" x2="361.59" y2="306.30" stroke="#444444" stroke-width="1.00"/>
<line x1="382.62" y1="304.80" x2="382.62" y2="307.30" stroke="#444444" stroke-width="1.00"/>
<line x1="403.66" y1="304.80" x2="403.66" y2="306.30" stroke="#444444" stroke-width="1.00"/>
<line x1="424.70" y1="304.80" x2="424.70" y2="307.30" stroke="#444444" stroke-width="1.00"/>
<text x="0" y="0" transform="translate(256.40 317.00) scale(1 1.100)" font-size="8.80" text-anchor="middle" fill="#1a1a1a" stroke="#1a1a1a" >-100</text>
<text x="0" y="0" transform="translate(298.47 317.00) scale(1 1.100)" font-size="8.80" text-anchor="middle" fill="#1a1a1a" stroke="#1a1a1a" >0</text>
<text x="0" y="0" transform="translate(340.55 317.00) scale(1 1.100)" font-size="8.80" text-anchor="middle" fill="#1a1a1a" stroke="#1a1a1a" >100</text>
<text x="0" y="0" transform="translate(382.62 317.00) scale(1 1.100)" font-size="8.80" text-anchor="middle" fill="#1a1a1a" stroke="#1a1a1a" >200</text>
<text x="0" y="0" transform="translate(424.70 317.00) scale(1 1.100)" font-size="8.80" text-anchor="middle" fill="#1a1a1a" stroke="#1a1a1a" >300</text>
<line x1="246.00" y1="173.80" x2="248.50" y2="173.80" stroke="#444444" stroke-width="1.00"/>
<line x1="247.00" y1="204.32" x2="248.50" y2="204.32" stroke="#444444" stroke-width="0.80"/>
<line x1="247.00" y1="196.63" x2="248.50" y2="196.63" stroke="#444444" stroke-width="0.80"/>
<line x1="247.00" y1="191.18" x2="248.50" y2="191.18" stroke="#444444" stroke-width="0.80"/>
<line x1="247.00" y1="186.94" x2="248.50" y2="186.94" stroke="#444444" stroke-width="0.80"/>
<line x1="247.00" y1="183.49" x2="248.50" y2="183.49" stroke="#444444" stroke-width="0.80"/>
<line x1="247.00" y1="180.56" x2="248.50" y2="180.56" stroke="#444444" stroke-width="0.80"/>
<line x1="247.00" y1="178.03" x2="248.50" y2="178.03" stroke="#444444" stroke-width="0.80"/>
<line x1="247.00" y1="175.80" x2="248.50" y2="175.80" stroke="#444444" stroke-width="0.80"/>
<text x="0" y="0" transform="translate(244.50 177.40) scale(1 1.120)" font-size="8.60" text-anchor="end" fill="#1a1a1a" stroke="#1a1a1a" >10<tspan dy="-3.6" font-size="5.4">1</tspan></text>
<line x1="246.00" y1="217.47" x2="248.50" y2="217.47" stroke="#444444" stroke-width="1.00"/>
<line x1="247.00" y1="247.99" x2="248.50" y2="247.99" stroke="#444444" stroke-width="0.80"/>
<line x1="247.00" y1="240.30" x2="248.50" y2="240.30" stroke="#444444" stroke-width="0.80"/>
<line x1="247.00" y1="234.84" x2="248.50" y2="234.84" stroke="#444444" stroke-width="0.80"/>
<line x1="247.00" y1="230.61" x2="248.50" y2="230.61" stroke="#444444" stroke-width="0.80"/>
<line x1="247.00" y1="227.15" x2="248.50" y2="227.15" stroke="#444444" stroke-width="0.80"/>
<line x1="247.00" y1="224.23" x2="248.50" y2="224.23" stroke="#444444" stroke-width="0.80"/>
<line x1="247.00" y1="221.70" x2="248.50" y2="221.70" stroke="#444444" stroke-width="0.80"/>
<line x1="247.00" y1="219.46" x2="248.50" y2="219.46" stroke="#444444" stroke-width="0.80"/>
<text x="0" y="0" transform="translate(244.50 221.07) scale(1 1.120)" font-size="8.60" text-anchor="end" fill="#1a1a1a" stroke="#1a1a1a" >10<tspan dy="-3.6" font-size="5.4">0</tspan></text>
<line x1="246.00" y1="261.13" x2="248.50" y2="261.13" stroke="#444444" stroke-width="1.00"/>
<line x1="247.00" y1="291.66" x2="248.50" y2="291.66" stroke="#444444" stroke-width="0.80"/>
<line x1="247.00" y1="283.97" x2="248.50" y2="283.97" stroke="#444444" stroke-width="0.80"/>
<line x1="247.00" y1="278.51" x2="248.50" y2="278.51" stroke="#444444" stroke-width="0.80"/>
<line x1="247.00" y1="274.28" x2="248.50" y2="274.28" stroke="#444444" stroke-width="0.80"/>
<line x1="247.00" y1="270.82" x2="248.50" y2="270.82" stroke="#444444" stroke-width="0.80"/>
<line x1="247.00" y1="267.90" x2="248.50" y2="267.90" stroke="#444444" stroke-width="0.80"/>
<line x1="247.00" y1="265.37" x2="248.50" y2="265.37" stroke="#444444" stroke-width="0.80"/>
<line x1="247.00" y1="263.13" x2="248.50" y2="263.13" stroke="#444444" stroke-width="0.80"/>
<text x="0" y="0" transform="translate(244.50 264.73) scale(1 1.120)" font-size="8.60" text-anchor="end" fill="#1a1a1a" stroke="#1a1a1a" >10<tspan dy="-3.6" font-size="5.4">-1</tspan></text>
<line x1="246.00" y1="304.80" x2="248.50" y2="304.80" stroke="#444444" stroke-width="1.00"/>
<text x="0" y="0" transform="translate(244.50 308.40) scale(1 1.120)" font-size="8.60" text-anchor="end" fill="#1a1a1a" stroke="#1a1a1a" >10<tspan dy="-3.6" font-size="5.4">-2</tspan></text>
<path d="M250.50 253.10 C253.75 253.02 265.92 252.72 270.00 252.60 C274.08 252.48 272.63 252.70 275.00 252.40 C277.37 252.10 281.47 251.27 284.20 250.80 C286.93 250.33 289.10 249.75 291.40 249.60 C293.70 249.45 294.63 249.77 298.00 249.90 C301.37 250.03 307.10 250.32 311.60 250.40 C316.10 250.48 320.78 250.43 325.00 250.40 C329.22 250.37 334.02 250.48 336.90 250.20 C339.78 249.92 338.45 249.02 342.30 248.70 C346.15 248.38 350.38 248.38 360.00 248.30 C369.62 248.22 389.05 248.22 400.00 248.20 C410.95 248.18 421.42 248.20 425.70 248.20" fill="none" stroke="#1a959b" stroke-width="3.40" stroke-linecap="butt" stroke-linejoin="round"/>
<path d="M250.50 244.00 C253.75 243.93 263.42 243.65 270.00 243.60 C276.58 243.55 285.33 243.58 290.00 243.70 C294.67 243.82 294.40 243.97 298.00 244.30 C301.60 244.63 307.10 245.32 311.60 245.70 C316.10 246.08 318.93 246.35 325.00 246.60 C331.07 246.85 338.33 247.08 348.00 247.20 C357.67 247.32 374.23 247.37 383.00 247.30 C391.77 247.23 393.48 246.90 400.60 246.80 C407.72 246.70 421.52 246.72 425.70 246.70" fill="none" stroke="#f46c6a" stroke-width="3.40" stroke-linecap="butt" stroke-linejoin="round"/>
<path d="M250.50 254.00 C253.75 254.07 263.42 254.33 270.00 254.40 C276.58 254.47 285.33 254.32 290.00 254.40 C294.67 254.48 294.40 254.43 298.00 254.90 C301.60 255.37 308.13 256.55 311.60 257.20 C315.07 257.85 316.57 258.50 318.80 258.80 C321.03 259.10 320.13 258.88 325.00 259.00 C329.87 259.12 338.33 259.28 348.00 259.50 C357.67 259.72 370.05 260.20 383.00 260.30 C395.95 260.40 418.58 260.13 425.70 260.10" fill="none" stroke="#4567b3" stroke-width="3.40" stroke-linecap="butt" stroke-linejoin="round"/>
<line x1="248.50" y1="173.80" x2="427.00" y2="173.80" stroke="#444444" stroke-width="1.00"/>
<line x1="248.50" y1="304.80" x2="427.00" y2="304.80" stroke="#444444" stroke-width="1.00"/>
<line x1="248.50" y1="173.80" x2="248.50" y2="304.80" stroke="#444444" stroke-width="1.00"/>
<line x1="427.00" y1="173.80" x2="427.00" y2="304.80" stroke="#444444" stroke-width="1.00"/>
<rect x="314.20" y="183.80" width="3" height="3" fill="#1a959b"/>
<text x="325.50" y="188.10" font-size="8.30" text-anchor="start" fill="#1a1a1a" stroke="#1a1a1a" >SiO<tspan font-size="5.5" dy="2.4">2</tspan><tspan dy="-2.4"> node</tspan></text>
<rect x="314.20" y="195.70" width="3" height="3" fill="#f46c6a"/>
<text x="325.50" y="200.00" font-size="8.30" text-anchor="start" fill="#1a1a1a" stroke="#1a1a1a" >PyC node</text>
<rect x="314.20" y="207.60" width="3" height="3" fill="#4567b3"/>
<text x="325.50" y="211.90" font-size="8.30" text-anchor="start" fill="#1a1a1a" stroke="#1a1a1a" >SiO<tspan font-size="5.5" dy="2.4">2</tspan><tspan dy="-2.4">/PyC dual-phase node</tspan></text>
<text x="340.00" y="328.20" font-size="10.30" text-anchor="middle" fill="#1a1a1a" stroke="#1a1a1a" >Temperature (<tspan dy="-5" font-size="6.8">o</tspan><tspan dy="5">C)</tspan></text>
<text x="224.90" y="236.65" font-size="10.35" text-anchor="middle" fill="#1a1a1a" stroke="#1a1a1a" transform="rotate(-90 224.90 236.65)">Loss modulus (MPa)</text>
<text x="218.50" y="184.00" font-size="16.00" text-anchor="start" fill="#1a1a1a" stroke="#1a1a1a" >e</text>
<line x1="475.00" y1="175.40" x2="654.10" y2="175.40" stroke="#444444" stroke-width="1.00"/>
<line x1="475.00" y1="305.90" x2="654.10" y2="305.90" stroke="#555" stroke-width="1.00"/>
<line x1="475.00" y1="175.40" x2="475.00" y2="305.90" stroke="#1b9a9a" stroke-width="1.00"/>
<line x1="654.10" y1="175.40" x2="654.10" y2="305.90" stroke="#f0349a" stroke-width="1.00"/>
<line x1="482.50" y1="305.90" x2="482.50" y2="308.40" stroke="#444444" stroke-width="1.00"/>
<line x1="498.36" y1="305.90" x2="498.36" y2="307.40" stroke="#444444" stroke-width="1.00"/>
<line x1="514.22" y1="305.90" x2="514.22" y2="308.40" stroke="#444444" stroke-width="1.00"/>
<line x1="530.08" y1="305.90" x2="530.08" y2="307.40" stroke="#444444" stroke-width="1.00"/>
<line x1="545.94" y1="305.90" x2="545.94" y2="308.40" stroke="#444444" stroke-width="1.00"/>
<line x1="561.80" y1="305.90" x2="561.80" y2="307.40" stroke="#444444" stroke-width="1.00"/>
<line x1="577.66" y1="305.90" x2="577.66" y2="308.40" stroke="#444444" stroke-width="1.00"/>
<line x1="593.52" y1="305.90" x2="593.52" y2="307.40" stroke="#444444" stroke-width="1.00"/>
<line x1="609.38" y1="305.90" x2="609.38" y2="308.40" stroke="#444444" stroke-width="1.00"/>
<line x1="625.24" y1="305.90" x2="625.24" y2="307.40" stroke="#444444" stroke-width="1.00"/>
<line x1="641.10" y1="305.90" x2="641.10" y2="308.40" stroke="#444444" stroke-width="1.00"/>
<text x="0" y="0" transform="translate(482.50 317.50) scale(1 1.100)" font-size="8.50" text-anchor="middle" fill="#1a1a1a" stroke="#1a1a1a" >0</text>
<text x="0" y="0" transform="translate(514.22 317.50) scale(1 1.100)" font-size="8.50" text-anchor="middle" fill="#1a1a1a" stroke="#1a1a1a" >20,000</text>
<text x="0" y="0" transform="translate(545.94 317.50) scale(1 1.100)" font-size="8.50" text-anchor="middle" fill="#1a1a1a" stroke="#1a1a1a" >40,000</text>
<text x="0" y="0" transform="translate(577.66 317.50) scale(1 1.100)" font-size="8.50" text-anchor="middle" fill="#1a1a1a" stroke="#1a1a1a" >60,000</text>
<text x="0" y="0" transform="translate(609.38 317.50) scale(1 1.100)" font-size="8.50" text-anchor="middle" fill="#1a1a1a" stroke="#1a1a1a" >80,000</text>
<text x="0" y="0" transform="translate(641.10 317.50) scale(1 1.100)" font-size="8.50" text-anchor="middle" fill="#1a1a1a" stroke="#1a1a1a" >100,000</text>
<line x1="472.50" y1="175.40" x2="475.00" y2="175.40" stroke="#1b9a9a" stroke-width="1.00"/>
<line x1="473.50" y1="205.81" x2="475.00" y2="205.81" stroke="#1b9a9a" stroke-width="0.80"/>
<line x1="473.50" y1="198.15" x2="475.00" y2="198.15" stroke="#1b9a9a" stroke-width="0.80"/>
<line x1="473.50" y1="192.71" x2="475.00" y2="192.71" stroke="#1b9a9a" stroke-width="0.80"/>
<line x1="473.50" y1="188.49" x2="475.00" y2="188.49" stroke="#1b9a9a" stroke-width="0.80"/>
<line x1="473.50" y1="185.05" x2="475.00" y2="185.05" stroke="#1b9a9a" stroke-width="0.80"/>
<line x1="473.50" y1="182.14" x2="475.00" y2="182.14" stroke="#1b9a9a" stroke-width="0.80"/>
<line x1="473.50" y1="179.62" x2="475.00" y2="179.62" stroke="#1b9a9a" stroke-width="0.80"/>
<line x1="473.50" y1="177.39" x2="475.00" y2="177.39" stroke="#1b9a9a" stroke-width="0.80"/>
<text x="0" y="0" transform="translate(470.00 179.00) scale(1 1.120)" font-size="8.60" text-anchor="end" fill="#1b9a9a" stroke="#1b9a9a" >10<tspan dy="-3.6" font-size="5.4">1</tspan></text>
<line x1="472.50" y1="218.90" x2="475.00" y2="218.90" stroke="#1b9a9a" stroke-width="1.00"/>
<line x1="473.50" y1="249.31" x2="475.00" y2="249.31" stroke="#1b9a9a" stroke-width="0.80"/>
<line x1="473.50" y1="241.65" x2="475.00" y2="241.65" stroke="#1b9a9a" stroke-width="0.80"/>
<line x1="473.50" y1="236.21" x2="475.00" y2="236.21" stroke="#1b9a9a" stroke-width="0.80"/>
<line x1="473.50" y1="231.99" x2="475.00" y2="231.99" stroke="#1b9a9a" stroke-width="0.80"/>
<line x1="473.50" y1="228.55" x2="475.00" y2="228.55" stroke="#1b9a9a" stroke-width="0.80"/>
<line x1="473.50" y1="225.64" x2="475.00" y2="225.64" stroke="#1b9a9a" stroke-width="0.80"/>
<line x1="473.50" y1="223.12" x2="475.00" y2="223.12" stroke="#1b9a9a" stroke-width="0.80"/>
<line x1="473.50" y1="220.89" x2="475.00" y2="220.89" stroke="#1b9a9a" stroke-width="0.80"/>
<text x="0" y="0" transform="translate(470.00 222.50) scale(1 1.120)" font-size="8.60" text-anchor="end" fill="#1b9a9a" stroke="#1b9a9a" >10<tspan dy="-3.6" font-size="5.4">0</tspan></text>
<line x1="472.50" y1="262.40" x2="475.00" y2="262.40" stroke="#1b9a9a" stroke-width="1.00"/>
<line x1="473.50" y1="292.81" x2="475.00" y2="292.81" stroke="#1b9a9a" stroke-width="0.80"/>
<line x1="473.50" y1="285.15" x2="475.00" y2="285.15" stroke="#1b9a9a" stroke-width="0.80"/>
<line x1="473.50" y1="279.71" x2="475.00" y2="279.71" stroke="#1b9a9a" stroke-width="0.80"/>
<line x1="473.50" y1="275.49" x2="475.00" y2="275.49" stroke="#1b9a9a" stroke-width="0.80"/>
<line x1="473.50" y1="272.05" x2="475.00" y2="272.05" stroke="#1b9a9a" stroke-width="0.80"/>
<line x1="473.50" y1="269.14" x2="475.00" y2="269.14" stroke="#1b9a9a" stroke-width="0.80"/>
<line x1="473.50" y1="266.62" x2="475.00" y2="266.62" stroke="#1b9a9a" stroke-width="0.80"/>
<line x1="473.50" y1="264.39" x2="475.00" y2="264.39" stroke="#1b9a9a" stroke-width="0.80"/>
<text x="0" y="0" transform="translate(470.00 266.00) scale(1 1.120)" font-size="8.60" text-anchor="end" fill="#1b9a9a" stroke="#1b9a9a" >10<tspan dy="-3.6" font-size="5.4">-1</tspan></text>
<line x1="472.50" y1="305.90" x2="475.00" y2="305.90" stroke="#1b9a9a" stroke-width="1.00"/>
<text x="0" y="0" transform="translate(470.00 309.50) scale(1 1.120)" font-size="8.60" text-anchor="end" fill="#1b9a9a" stroke="#1b9a9a" >10<tspan dy="-3.6" font-size="5.4">-2</tspan></text>
<line x1="654.10" y1="175.40" x2="656.60" y2="175.40" stroke="#f0349a" stroke-width="1.00"/>
<line x1="654.10" y1="221.01" x2="655.60" y2="221.01" stroke="#f0349a" stroke-width="0.80"/>
<line x1="654.10" y1="209.52" x2="655.60" y2="209.52" stroke="#f0349a" stroke-width="0.80"/>
<line x1="654.10" y1="201.37" x2="655.60" y2="201.37" stroke="#f0349a" stroke-width="0.80"/>
<line x1="654.10" y1="195.04" x2="655.60" y2="195.04" stroke="#f0349a" stroke-width="0.80"/>
<line x1="654.10" y1="189.88" x2="655.60" y2="189.88" stroke="#f0349a" stroke-width="0.80"/>
<line x1="654.10" y1="185.51" x2="655.60" y2="185.51" stroke="#f0349a" stroke-width="0.80"/>
<line x1="654.10" y1="181.72" x2="655.60" y2="181.72" stroke="#f0349a" stroke-width="0.80"/>
<line x1="654.10" y1="178.39" x2="655.60" y2="178.39" stroke="#f0349a" stroke-width="0.80"/>
<text x="0" y="0" transform="translate(659.20 179.00) scale(1 1.120)" font-size="8.60" text-anchor="start" fill="#f0349a" stroke="#f0349a" >10<tspan dy="-3.6" font-size="5.4">0</tspan></text>
<line x1="654.10" y1="240.65" x2="656.60" y2="240.65" stroke="#f0349a" stroke-width="1.00"/>
<line x1="654.10" y1="286.26" x2="655.60" y2="286.26" stroke="#f0349a" stroke-width="0.80"/>
<line x1="654.10" y1="274.77" x2="655.60" y2="274.77" stroke="#f0349a" stroke-width="0.80"/>
<line x1="654.10" y1="266.62" x2="655.60" y2="266.62" stroke="#f0349a" stroke-width="0.80"/>
<line x1="654.10" y1="260.29" x2="655.60" y2="260.29" stroke="#f0349a" stroke-width="0.80"/>
<line x1="654.10" y1="255.13" x2="655.60" y2="255.13" stroke="#f0349a" stroke-width="0.80"/>
<line x1="654.10" y1="250.76" x2="655.60" y2="250.76" stroke="#f0349a" stroke-width="0.80"/>
<line x1="654.10" y1="246.97" x2="655.60" y2="246.97" stroke="#f0349a" stroke-width="0.80"/>
<line x1="654.10" y1="243.64" x2="655.60" y2="243.64" stroke="#f0349a" stroke-width="0.80"/>
<text x="0" y="0" transform="translate(659.20 244.25) scale(1 1.120)" font-size="8.60" text-anchor="start" fill="#f0349a" stroke="#f0349a" >10<tspan dy="-3.6" font-size="5.4">-1</tspan></text>
<line x1="654.10" y1="305.90" x2="656.60" y2="305.90" stroke="#f0349a" stroke-width="1.00"/>
<text x="0" y="0" transform="translate(659.20 309.50) scale(1 1.120)" font-size="8.60" text-anchor="start" fill="#f0349a" stroke="#f0349a" >10<tspan dy="-3.6" font-size="5.4">-2</tspan></text>
<path d="M482.50 187.40 C510.25 187.40 621.25 187.40 649.00 187.40" fill="none" stroke="#007a7a" stroke-width="3.40" stroke-linecap="butt" stroke-linejoin="round"/>
<ellipse cx="482.6" cy="187.9" rx="1.8" ry="2.2" fill="#007a7a"/>
<path d="M482.00 257.80 C495.00 257.95 532.22 258.38 560.00 258.70 C587.78 259.02 633.92 259.53 648.70 259.70" fill="none" stroke="#0a0af5" stroke-width="4.20" stroke-linecap="butt" stroke-linejoin="round"/>
<ellipse cx="483" cy="258.6" rx="2" ry="3.6" fill="#0a0af5"/>
<path d="M482.00 284.90 C496.67 285.00 542.22 285.30 570.00 285.50 C597.78 285.70 635.58 286.00 648.70 286.10" fill="none" stroke="#f0147f" stroke-width="4.20" stroke-linecap="butt" stroke-linejoin="round"/>
<ellipse cx="483" cy="285.3" rx="2.2" ry="3.2" fill="#f0147f"/>
<rect x="569.90" y="203.70" width="3" height="3" fill="#007a7a"/>
<text x="578.80" y="208.00" font-size="8.30" text-anchor="start" fill="#1a1a1a" stroke="#1a1a1a" >Storage modulus</text>
<rect x="569.90" y="213.80" width="3" height="3" fill="#0a0af5"/>
<text x="578.80" y="218.10" font-size="8.30" text-anchor="start" fill="#1a1a1a" stroke="#1a1a1a" >Loss modulus</text>
<rect x="569.90" y="223.90" width="3" height="3" fill="#f0147f"/>
<text x="578.80" y="228.20" font-size="8.30" text-anchor="start" fill="#1a1a1a" stroke="#1a1a1a" >Damping ratio</text>
<text x="566.80" y="328.80" font-size="10.25" text-anchor="middle" fill="#1a1a1a" stroke="#1a1a1a" >Cycle</text>
<text x="443.40" y="236.85" font-size="10.35" text-anchor="middle" fill="#0a0af5" stroke="#0a0af5" transform="rotate(-90 443.40 236.85)">Loss modulus (MPa)</text>
<text x="454.60" y="241.60" font-size="10.35" text-anchor="middle" fill="#1b9a9a" stroke="#1b9a9a" transform="rotate(-90 454.60 241.60)">Storage modulus (MPa)</text>
<text x="683.00" y="238.55" font-size="10.08" text-anchor="middle" fill="#f0349a" stroke="#f0349a" transform="rotate(-90 683.00 238.55)">Damping ratio (tan &#948;)</text>
<text x="446.00" y="183.60" font-size="16.00" text-anchor="start" fill="#1a1a1a" stroke="#1a1a1a" >f</text>
</svg></body></html>
